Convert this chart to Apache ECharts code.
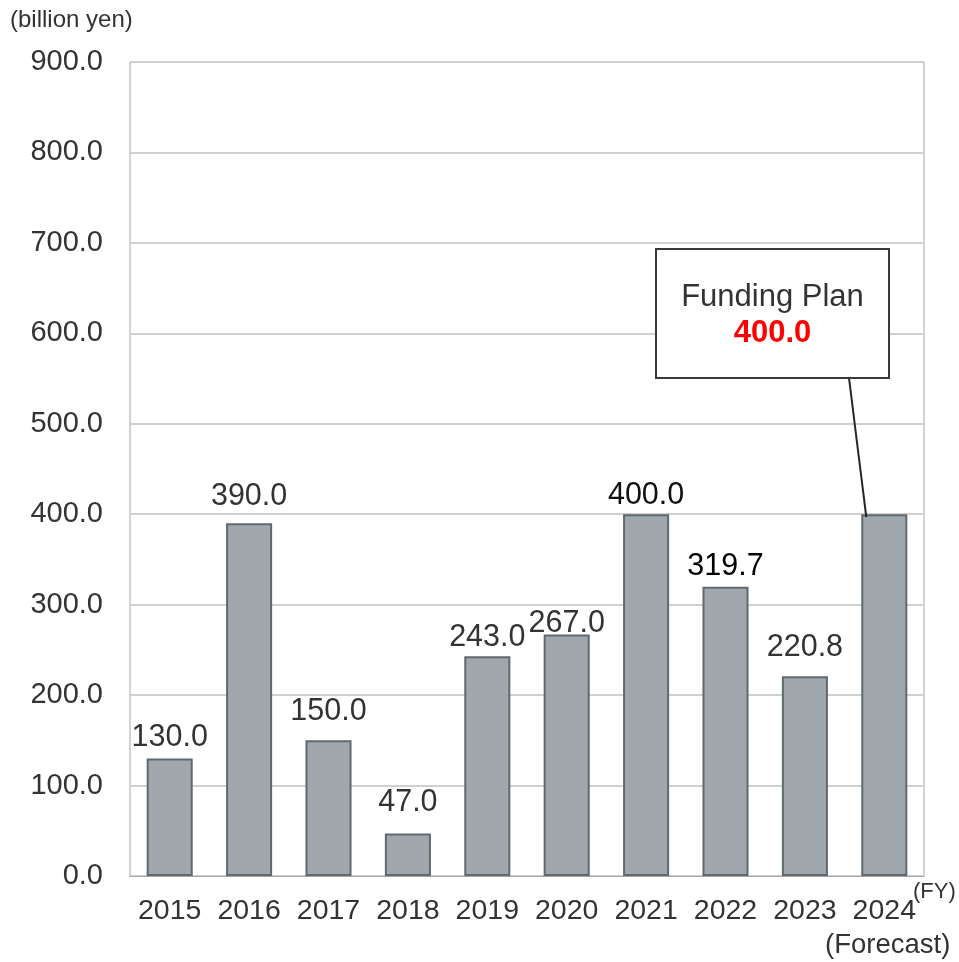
<!DOCTYPE html>
<html>
<head>
<meta charset="utf-8">
<style>
  html, body { margin: 0; padding: 0; background: #fff; }
  #chart { width: 959px; height: 962px; }
</style>
<script src="https://cdn.jsdelivr.net/npm/echarts@6/dist/echarts.min.js"></script>
</head>
<body>
<div id="chart"></div>
<script>
// Annual funding amounts, fiscal years 2015–2024 (2024 is a forecast)
const years = ['2015', '2016', '2017', '2018', '2019', '2020', '2021', '2022', '2023', '2024'];
const amounts = [130.0, 390.0, 150.0, 47.0, 243.0, 267.0, 400.0, 319.7, 220.8, 400.0];
const yTicks = [0, 100, 200, 300, 400, 500, 600, 700, 800, 900];
const planLabel = 'Funding Plan';
const planValue = 400.0;

const FONT = 'Arial, "Liberation Sans", sans-serif';
const TEXT = '#333333';

// label gap above each bar (px)
const labelGap = [5, 11, 13, 15, 3, -5, 3, 5, 13, 0];
const labelColor = ['#333', '#333', '#333', '#333', '#333', '#333', '#111', '#000', '#333', '#333'];

const chart = echarts.init(document.getElementById('chart'), null, { renderer: 'canvas' });

const barData = amounts.map((v, i) => ({
  value: v,
  label: {
    show: i < years.length - 1,
    distance: labelGap[i],
    color: labelColor[i]
  }
}));

chart.setOption({
  animation: false,
  backgroundColor: '#ffffff',
  grid: {
    left: 130, right: 35, top: 62, bottom: 86,
    show: true, borderColor: '#a6a6a6', borderWidth: 1
  },
  xAxis: {
    type: 'category',
    data: years,
    axisLine: { show: true, lineStyle: { color: '#a6a6a6', width: 1 } },
    axisTick: { show: false },
    axisLabel: {
      interval: 0, hideOverlap: false,
      color: TEXT, fontFamily: FONT, fontSize: 28.5, margin: 21
    }
  },
  yAxis: {
    type: 'value',
    min: yTicks[0],
    max: yTicks[yTicks.length - 1],
    interval: yTicks[1] - yTicks[0],
    axisLine: { show: false },
    axisTick: { show: false },
    splitLine: { lineStyle: { color: '#d0d0d0', width: 2 } },
    axisLabel: {
      color: TEXT, fontFamily: FONT, fontSize: 29, margin: 27,
      formatter: v => v.toFixed(1)
    }
  },
  series: [{
    type: 'bar',
    data: barData,
    barWidth: '58%',
    itemStyle: { color: '#a0a8ae', borderColor: '#5f6a70', borderWidth: 2 },
    label: {
      show: true,
      position: 'top',
      fontFamily: FONT,
      fontSize: 30.5,
      color: TEXT,
      formatter: p => p.value.toFixed(1)
    }
  }]
});

// Axis notes plus the callout pointing at the forecast bar
const last = years.length - 1;
const tip = chart.convertToPixel({ xAxisIndex: 0, yAxisIndex: 0 }, [years[last], planValue]);
const box = { x: 656, y: 249, w: 233, h: 129 };
chart.setOption({
  graphic: [
    {
      type: 'text', left: 10, top: 8,
      style: { text: '(billion yen)', font: '24px ' + FONT, fill: TEXT }
    },
    {
      type: 'text', left: 913, top: 881,
      style: { text: '(FY)', font: '22px ' + FONT, fill: TEXT }
    },
    {
      type: 'text', left: 825, top: 931,
      style: { text: '(Forecast)', font: '27.5px ' + FONT, fill: TEXT }
    },
    {
      type: 'line', z: 10,
      shape: { x1: box.x + 193, y1: box.y + box.h, x2: tip[0] - 18, y2: tip[1] + 3 },
      style: { stroke: '#262626', lineWidth: 2 }
    },
    {
      type: 'rect', z: 10,
      shape: { x: box.x, y: box.y, width: box.w, height: box.h },
      style: { fill: '#ffffff', stroke: '#3a3a3a', lineWidth: 2 }
    },
    {
      type: 'text', z: 11,
      x: box.x + box.w / 2, y: box.y + 48,
      style: { text: planLabel, font: '31px ' + FONT, fill: TEXT, align: 'center', verticalAlign: 'middle' }
    },
    {
      type: 'text', z: 11,
      x: box.x + box.w / 2, y: box.y + 84,
      style: { text: planValue.toFixed(1), font: 'bold 31px ' + FONT, fill: '#ff0000', align: 'center', verticalAlign: 'middle' }
    }
  ]
});
</script>
</body>
</html>
